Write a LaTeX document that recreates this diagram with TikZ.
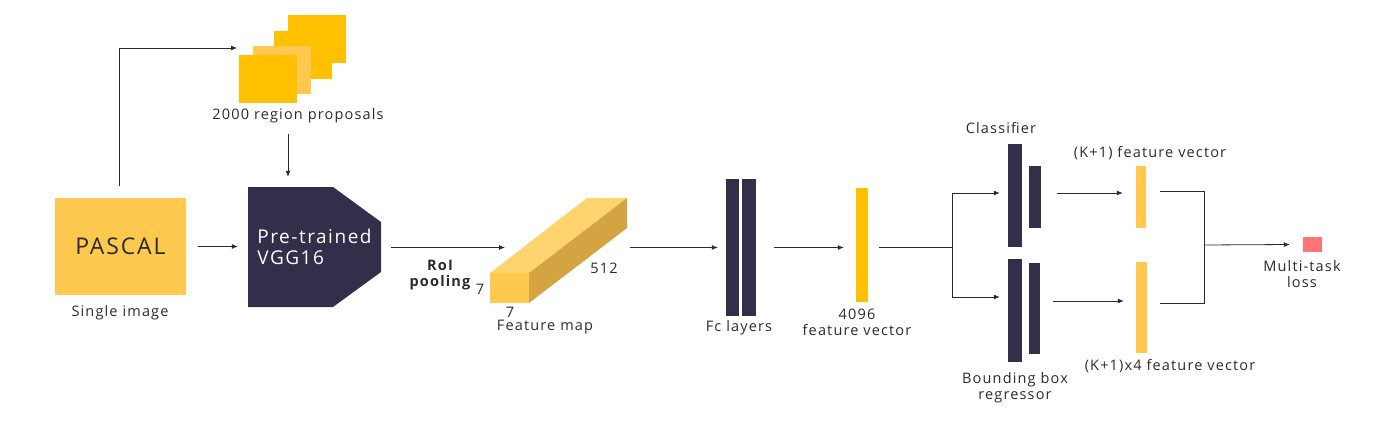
\documentclass[tikz,border=0pt]{standalone}
\usepackage{fontspec}
\setmainfont[LetterSpace=8]{Open Sans}
\usetikzlibrary{arrows.meta,calc,positioning}
\definecolor{Ink}{HTML}{322F4B}
\definecolor{Gold}{HTML}{FFC000}
\definecolor{SoftGold}{HTML}{FFC84F}
\definecolor{TopGold}{HTML}{FFD36E}
\definecolor{SideGold}{HTML}{D4A443}
\definecolor{Loss}{HTML}{FF7575}
\definecolor{Txt}{HTML}{2B2B2B}

\begin{document}
\begin{tikzpicture}[
  x=1pt,y=-1pt,
  >={Latex[length=6pt,width=5pt]},
  lbl/.style={font=\fontsize{14.5}{16}\selectfont,text=Txt,inner sep=0pt,align=center},
  bar/.style={fill=Ink,draw=none,inner sep=0pt},
  vec/.style={fill=Gold,draw=none,inner sep=0pt},
  prop/.style={fill=Gold,draw=none,inner sep=0pt,minimum width=58pt,minimum height=48pt},
  arrow/.style={->,line width=0.8pt,draw=Txt},
  link/.style={line width=0.8pt,draw=Txt}
]
  \useasboundingbox (0,0) rectangle (1390,426);
  % input image and proposals
  \node[fill=SoftGold,inner sep=0pt,minimum width=131pt,minimum height=97pt,font=\fontsize{23}{27}\selectfont,text=Txt] (pascal) at (120.5,246.5) {PASCAL};
  \node[lbl] (single) at (120,313) {Single image};
  \node[prop] (p4) at (317,39) {};
  \node[prop] (p3) at (302.5,54.5) {};
  \node[prop,fill=SoftGold] (p2) at (282,70) {};
  \node[prop] (p1) at (267.5,79) {};
  \node[lbl] (props) at (298,116) {2000 region proposals};
  \coordinate (stack) at (237,48);
  % backbone
  \node[inner sep=0pt,minimum width=133pt,minimum height=120pt,align=left,text=white,
    font=\fontsize{19}{21}\selectfont,
    path picture={\fill[Ink] (path picture bounding box.north west)
      -- ($(path picture bounding box.north east)+(-48,0)$)
      -- ($(path picture bounding box.north east)+(0,35)$)
      -- ($(path picture bounding box.south east)+(0,-35)$)
      -- ($(path picture bounding box.south east)+(-48,0)$)
      -- (path picture bounding box.south west) -- cycle;}] (vgg) at (314.5,247) {Pre-trained\\VGG16};
  \node[lbl,font=\bfseries\fontsize{14.5}{16}\selectfont] (roi) at (440,275) {RoI\\pooling};
  % feature map cuboid
  \fill[TopGold] (490,273) -- (587,198) -- (627,198) -- (529,273) -- cycle;
  \fill[SideGold] (529,273) -- (627,198) -- (627,228) -- (529,303) -- cycle;
  \node[fill=SoftGold,inner sep=0pt,minimum width=39pt,minimum height=30pt] (fmap) at (509.5,288) {};
  \node[inner sep=0pt,minimum width=137pt,minimum height=105pt] (cube) at (558.5,250.5) {};
  \coordinate (fmin) at (505,247.5);
  \node[lbl] (side7) at (480,289) {7};
  \node[lbl] (low7) at (510,312) {7};
  \node[lbl] (depth) at (604,268) {512};
  \node[lbl] (fmlbl) at (545,327) {Feature map};
  % fully connected part
  \node[bar,minimum width=13pt,minimum height=137pt] (fc1) at (732.5,247.5) {};
  \node[bar,minimum width=14pt,minimum height=137pt] (fc2) at (749,247.5) {};
  \node[lbl] (fclbl) at (739,328) {Fc layers};
  \node[vec,minimum width=12pt,minimum height=114pt] (v4096) at (862,245) {};
  \node[lbl] (vlbl) at (857,322) {4096\\feature vector};
  \coordinate (split) at (952,247);
  % heads
  \node[bar,minimum width=14pt,minimum height=103pt] (cls) at (1015,195.5) {};
  \node[bar,minimum width=12pt,minimum height=62pt] (clss) at (1035,197) {};
  \node[bar,minimum width=14pt,minimum height=103pt] (reg) at (1015,310.5) {};
  \node[bar,minimum width=11pt,minimum height=91pt] (regs) at (1034.5,308.5) {};
  \node[lbl] (clslbl) at (1001,128) {Classifier};
  \node[lbl] (reglbl) at (1015,388) {Bounding box\\regressor};
  \node[vec,fill=SoftGold,minimum width=10pt,minimum height=62pt] (kv) at (1141,197) {};
  \node[vec,fill=SoftGold,minimum width=11pt,minimum height=91pt] (k4v) at (1141.5,307.5) {};
  \node[lbl] (kvlbl) at (1150,153) {(K+1) feature vector};
  \node[lbl] (k4vlbl) at (1170,366) {(K+1)x4 feature vector};
  \coordinate (merge) at (1204,245);
  \node[fill=Loss,inner sep=0pt,minimum width=19pt,minimum height=15pt] (loss) at (1312.5,244.5) {};
  \node[lbl] (losslbl) at (1302,274) {Multi-task\\loss};
  % connectors
  \draw[arrow] ($(pascal.north)+(-1,-12)$) |- (stack);
  \draw[arrow] ($(props.south)+(-10,11)$) -- ($(vgg.north)+(-26.5,-10)$);
  \draw[arrow] ($(pascal.east)+(12,0)$) -- ($(vgg.west)+(-10,-0.5)$);
  \draw[arrow] ($(vgg.east)+(10,0.5)$) -- (fmin);
  \draw[arrow] ($(cube.east)+(3,-3)$) -- ($(fc1.west)+(-8,0)$);
  \draw[arrow] ($(fc2.east)+(18,0)$) -- ($(v4096.west)+(-12,2.5)$);
  \draw[link] ($(v4096.east)+(11,2)$) -- (split);
  \draw[arrow] (split) |- ($(cls.west)+(-8,-2.5)$);
  \draw[arrow] (split) |- ($(reg.west)+(-8,-13.5)$);
  \draw[arrow] ($(clss.east)+(16,-4)$) -- ($(kv.west)+(-13,-4)$);
  \draw[arrow] ($(regs.east)+(13,-7.5)$) -- ($(k4v.west)+(-12,-6.5)$);
  \draw[link] ($(kv.east)+(14,-6)$) -| (merge);
  \draw[link] ($(k4v.east)+(13,-4.5)$) -| (merge);
  \draw[arrow] (merge) -- ($(loss.west)+(-13,0)$);
\end{tikzpicture}
\end{document}
